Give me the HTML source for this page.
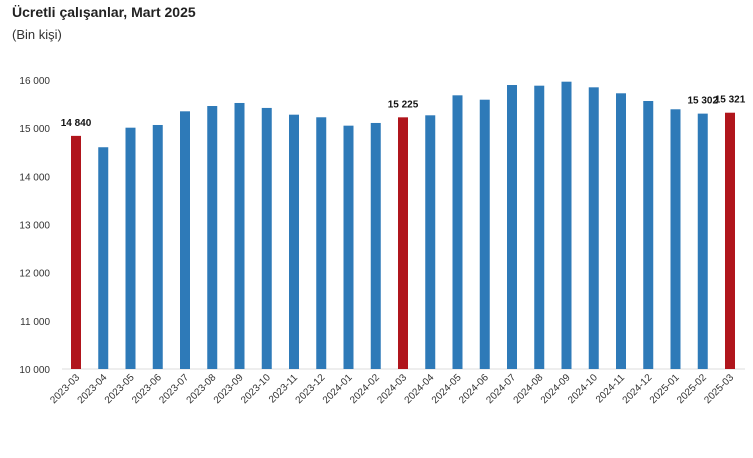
<!DOCTYPE html>
<html><head><meta charset="utf-8"><style>
body{margin:0;background:#fff;font-family:"Liberation Sans",sans-serif}
svg text{font-family:"Liberation Sans",sans-serif}
</style></head><body>
<svg width="753" height="453">
<text x="12" y="17" font-size="14" font-weight="bold" fill="#222">Ücretli çalışanlar, Mart 2025</text>
<text x="12" y="39" font-size="13" fill="#333">(Bin kişi)</text>
<g id="g"></g>
</svg>
<script>
const categories=["2023-03","2023-04","2023-05","2023-06","2023-07","2023-08","2023-09","2023-10","2023-11","2023-12","2024-01","2024-02","2024-03","2024-04","2024-05","2024-06","2024-07","2024-08","2024-09","2024-10","2024-11","2024-12","2025-01","2025-02","2025-03"];
const values=[14840,14604,15010,15066,15350,15460,15523,15420,15280,15226,15052,15108,15225,15267,15682,15591,15896,15882,15965,15848,15724,15564,15392,15302,15321];
const highlighted=["2023-03","2024-03","2025-03"];
const labeled=["2023-03","2024-03","2025-02","2025-03"];
const yTicks=[10000,11000,12000,13000,14000,15000,16000];
const yTickLabels=["10 000","11 000","12 000","13 000","14 000","15 000","16 000"];
const ns="http://www.w3.org/2000/svg",g=document.getElementById('g');
const y=v=>369-(v-10000)/6000*289;
const x=i=>76+i*27.25;
function mk(t,a){const e=document.createElementNS(ns,t);for(const k in a)e.setAttribute(k,a[k]);g.appendChild(e);return e;}
const ax=mk('line',{x1:62,x2:745,y1:369,y2:369,stroke:'#ddd'});


yTicks.forEach((t,i)=>{const e=mk('text',{x:50,y:y(t)+4,'font-size':10,'text-anchor':'end',fill:'#333'});e.textContent=yTickLabels[i];

});
categories.forEach((c,i)=>{const v=values[i];
const r=mk('rect',{x:x(i)-5,y:y(v),width:10,height:369-y(v),fill:highlighted.includes(c)?'#b0151c':'#2e7ab8'});


const t=mk('text',{transform:`translate(${x(i)+4},${378}) rotate(-45)`,'font-size':10,'text-anchor':'end',fill:'#333'});t.textContent=c;


if(labeled.includes(c)){const l=mk('text',{x:x(i),y:y(v)-10,'font-size':10,'font-weight':'bold','text-anchor':'middle',fill:'#111'});
l.textContent=String(v).replace(/(\d{2})(\d{3})/,'$1 $2');

}
});
</script>
</body></html>
